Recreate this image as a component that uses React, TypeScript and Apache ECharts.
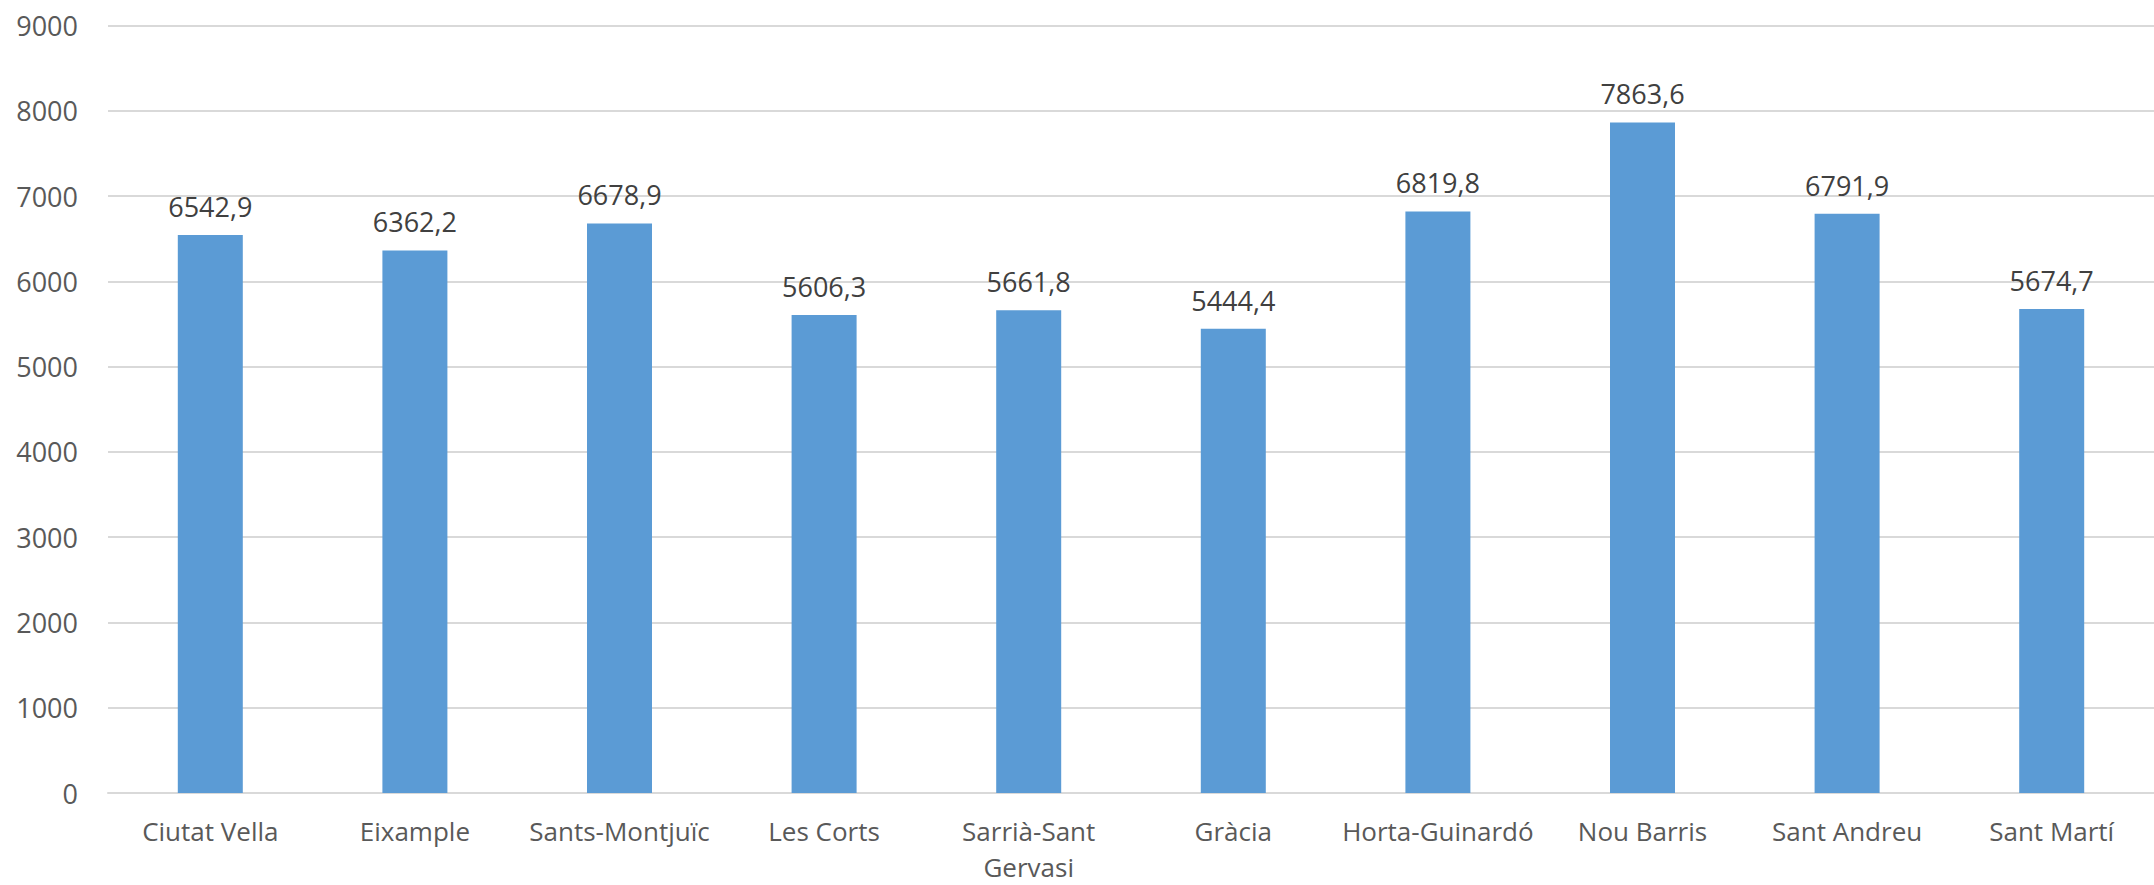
import React, { useEffect, useRef } from "react";
import * as echarts from "echarts";

const categories = [
  "Ciutat Vella",
  "Eixample",
  "Sants-Montjuïc",
  "Les Corts",
  "Sarrià-Sant\nGervasi",
  "Gràcia",
  "Horta-Guinardó",
  "Nou Barris",
  "Sant Andreu",
  "Sant Martí",
];
const values = [6542.9, 6362.2, 6678.9, 5606.3, 5661.8, 5444.4, 6819.8, 7863.6, 6791.9, 5674.7];
const yMin = 0;
const yMax = 9000;
const yInterval = 1000;

const FONT = "'Open Sans', 'Noto Sans', sans-serif";

export default function App() {
  const ref = useRef<HTMLDivElement>(null);
  useEffect(() => {
    if (!ref.current) return;
    const chart = echarts.init(ref.current, undefined, { renderer: "svg" });
    chart.setOption({
      animation: false,
      backgroundColor: "#ffffff",
      grid: { left: 108, right: -21, top: 25.5, height: 773, containLabel: false },
      xAxis: {
        type: "category",
        data: categories,
        axisLine: { show: true, lineStyle: { color: "#d9d9d9", width: 2 } },
        axisTick: { show: false },
        axisLabel: {
          color: "#595959",
          fontFamily: FONT,
          fontSize: 26,
          margin: 20,
          lineHeight: 36,
          interval: 0,
        },
      },
      yAxis: {
        type: "value",
        min: yMin,
        max: yMax,
        interval: yInterval,
        axisLine: { show: false },
        axisTick: { show: false },
        splitLine: { lineStyle: { color: "#d9d9d9", width: 2 } },
        axisLabel: {
          color: "#595959",
          fontFamily: FONT,
          fontSize: 27,
          margin: 30,
          formatter: (v: number) => String(v),
        },
      },
      series: [
        {
          type: "bar",
          data: values,
          barWidth: 65,
          itemStyle: { color: "#5b9bd5" },
          label: {
            show: true,
            position: "top",
            distance: 15,
            color: "#404040",
            fontFamily: FONT,
            fontSize: 27,
            formatter: (p: any) => p.value.toFixed(1).replace(".", ","),
          },
        },
      ],
    });
    return () => chart.dispose();
  }, []);
  return (
    <div
      ref={ref}
      style={{ position: "fixed", left: 0, top: 0, width: 2154, height: 885, overflow: "hidden" }}
    />
  );
}
